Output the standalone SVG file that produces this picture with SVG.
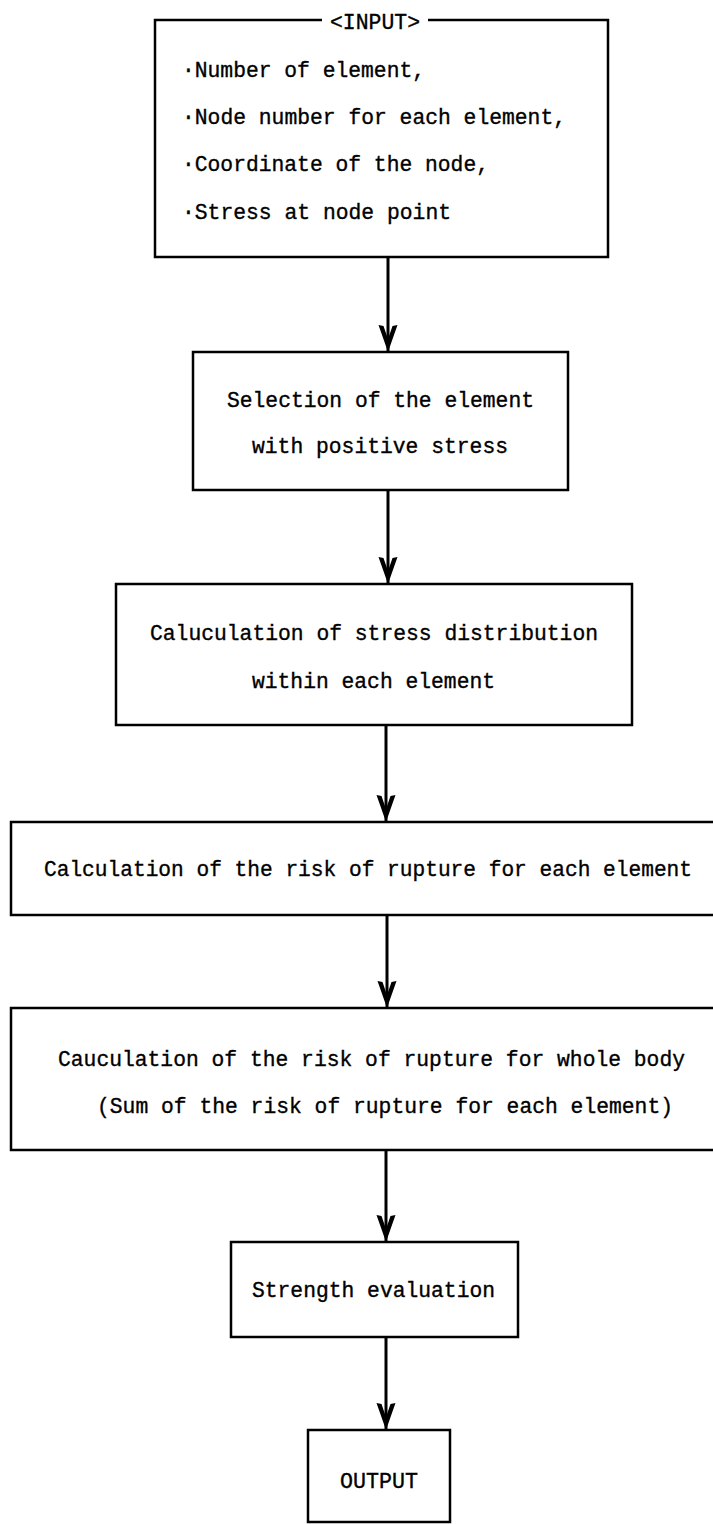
<svg xmlns="http://www.w3.org/2000/svg" width="713" height="1524" viewBox="0 0 713 1524">
<defs>
<style>
.box{fill:none;stroke:#000;stroke-width:2.5}
.t{font-family:"Liberation Mono","DejaVu Sans Mono",monospace;font-size:22px;fill:#000;stroke:#000;stroke-width:0.35}
.shaft{stroke:#000;stroke-width:3;fill:none}
</style>
<marker id="ah" markerUnits="userSpaceOnUse" viewBox="-30 -12 32 24" refX="0" refY="0" markerWidth="32" markerHeight="24" orient="auto">
<path d="M0,0 L-27,-9.5 L-26,-4.5 L-13,0 L-26,4.5 L-27,9.5 Z" fill="#000"/>
</marker>
</defs>
<rect width="713" height="1524" fill="#fff"/>
<g id="connectors">
<path class="shaft" d="M388,257 V352" marker-end="url(#ah)"/>
<path class="shaft" d="M388,490 V584" marker-end="url(#ah)"/>
<path class="shaft" d="M386,725 V822" marker-end="url(#ah)"/>
<path class="shaft" d="M387,915 V1008" marker-end="url(#ah)"/>
<path class="shaft" d="M386,1150 V1242" marker-end="url(#ah)"/>
<path class="shaft" d="M386,1337 V1430" marker-end="url(#ah)"/>
</g>
<g id="node-input">
<path class="box" d="M322,20 H155 V257 H608 V20 H428"/>
<text class="t" x="330" y="29" textLength="90" lengthAdjust="spacingAndGlyphs">&lt;INPUT&gt;</text>
<text class="t" x="182" y="77" textLength="243" lengthAdjust="spacingAndGlyphs">·Number of element,</text>
<text class="t" x="182" y="124" textLength="384" lengthAdjust="spacingAndGlyphs">·Node number for each element,</text>
<text class="t" x="182" y="171" textLength="307" lengthAdjust="spacingAndGlyphs">·Coordinate of the node,</text>
<text class="t" x="182" y="219" textLength="269" lengthAdjust="spacingAndGlyphs">·Stress at node point</text>
</g>
<g id="node-select">
<rect class="box" x="193" y="352" width="375" height="138"/>
<text class="t" x="227" y="407" textLength="307" lengthAdjust="spacingAndGlyphs">Selection of the element</text>
<text class="t" x="252" y="453" textLength="256" lengthAdjust="spacingAndGlyphs">with positive stress</text>
</g>
<g id="node-distribution">
<rect class="box" x="116" y="584" width="516" height="141"/>
<text class="t" x="150" y="640" textLength="448" lengthAdjust="spacingAndGlyphs">Caluculation of stress distribution</text>
<text class="t" x="252" y="688" textLength="243" lengthAdjust="spacingAndGlyphs">within each element</text>
</g>
<g id="node-risk-element">
<path class="box" d="M713,822 H11 V915 H713"/>
<text class="t" x="44" y="876" textLength="648" lengthAdjust="spacingAndGlyphs">Calculation of the risk of rupture for each element</text>
</g>
<g id="node-risk-body">
<path class="box" d="M713,1008 H11 V1150 H713"/>
<text class="t" x="58" y="1066" textLength="627" lengthAdjust="spacingAndGlyphs">Cauculation of the risk of rupture for whole body</text>
<text class="t" x="97" y="1113" textLength="576" lengthAdjust="spacingAndGlyphs">(Sum of the risk of rupture for each element)</text>
</g>
<g id="node-strength">
<rect class="box" x="231" y="1242" width="287" height="95"/>
<text class="t" x="252" y="1297" textLength="243" lengthAdjust="spacingAndGlyphs">Strength evaluation</text>
</g>
<g id="node-output">
<rect class="box" x="308" y="1430" width="142" height="92"/>
<text class="t" x="340" y="1488" textLength="78" lengthAdjust="spacingAndGlyphs">OUTPUT</text>
</g>
</svg>
